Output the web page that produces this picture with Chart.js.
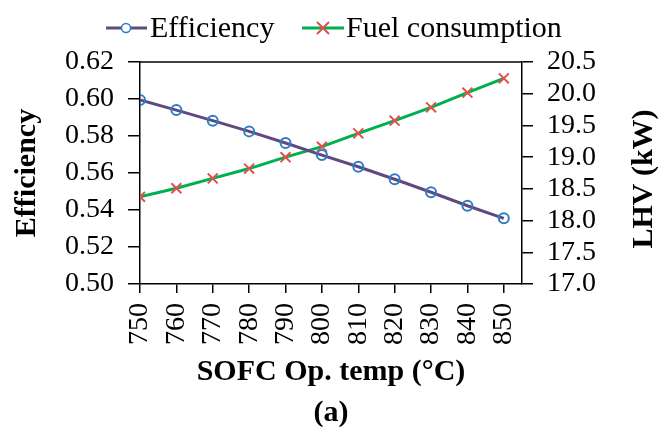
<!DOCTYPE html>
<html>
<head>
<meta charset="utf-8">
<script src="https://cdn.jsdelivr.net/npm/chart.js@4/dist/chart.umd.min.js"></script>
<style>
html,body{margin:0;padding:0;background:#fff;}
#wrap{width:660px;height:432px;position:relative;}
</style>
</head>
<body>
<div id="wrap"><canvas id="c" width="660" height="432"></canvas></div>
<script>
const temperatures = [750, 760, 770, 780, 790, 800, 810, 820, 830, 840, 850];
const efficiency = [0.5995, 0.594, 0.5883, 0.5825, 0.5762, 0.5697, 0.5634, 0.5566, 0.5496, 0.5423, 0.5355];
const fuelConsumption = [18.375, 18.51, 18.665, 18.82, 19.0, 19.165, 19.375, 19.575, 19.785, 20.016, 20.243];
const seriesNames = ['Efficiency', 'Fuel consumption'];
const xTitle = 'SOFC Op. temp (°C)';
const yTitle = 'Efficiency';
const y1Title = 'LHV (kW)';
const caption = '(a)';

const FONT = "'Liberation Serif', 'Times New Roman', serif";
const effLine = '#5f4a80', effMark = '#2f7cc4';
const fuelLine = '#00b050', fuelMark = '#e2504c';

const extras = {
  id: 'extras',
  afterDraw(chart) {
    const ctx = chart.ctx, a = chart.chartArea;
    ctx.save();
    // top border
    ctx.strokeStyle = '#000'; ctx.lineWidth = 1.5;
    ctx.beginPath(); ctx.moveTo(a.left, a.top); ctx.lineTo(a.right, a.top); ctx.stroke();
    // right title, reading bottom to top
    ctx.fillStyle = '#000';
    ctx.font = "bold 30px " + FONT;
    ctx.textAlign = 'center'; ctx.textBaseline = 'middle';
    ctx.translate(644, (a.top + a.bottom) / 2 + 6);
    ctx.rotate(-Math.PI / 2);
    ctx.fillText(y1Title, 0, 0);
    ctx.setTransform(1,0,0,1,0,0);
    // caption
    ctx.font = "bold 30px " + FONT;
    ctx.fillText(caption, (a.left + a.right) / 2, 413);
    // legend
    const ly = 28;
    ctx.font = "30px " + FONT;
    ctx.textAlign = 'left';
    // efficiency
    ctx.strokeStyle = effLine; ctx.lineWidth = 3;
    ctx.beginPath(); ctx.moveTo(106, ly); ctx.lineTo(147, ly); ctx.stroke();
    ctx.strokeStyle = effMark; ctx.lineWidth = 1.5;
    ctx.beginPath(); ctx.arc(126, ly, 4.5, 0, Math.PI * 2); ctx.fillStyle = '#fff'; ctx.fill(); ctx.stroke();
    ctx.fillStyle = '#000';
    ctx.fillText(seriesNames[0], 150, ly + 1);
    // fuel
    ctx.strokeStyle = fuelLine; ctx.lineWidth = 3;
    ctx.beginPath(); ctx.moveTo(302, ly); ctx.lineTo(344, ly); ctx.stroke();
    ctx.strokeStyle = fuelMark; ctx.lineWidth = 2;
    const r = 6, cx = 323;
    ctx.beginPath();
    ctx.moveTo(cx - r, ly - r); ctx.lineTo(cx + r, ly + r);
    ctx.moveTo(cx - r, ly + r); ctx.lineTo(cx + r, ly - r);
    ctx.stroke();
    ctx.fillText(seriesNames[1], 346, ly + 1);
    ctx.restore();
  }
};

new Chart(document.getElementById('c'), {
  type: 'line',
  data: {
    datasets: [
      {
        label: seriesNames[0],
        data: temperatures.map((t, i) => ({x: t, y: efficiency[i]})),
        yAxisID: 'y',
        borderColor: effLine,
        borderWidth: 3,
        pointStyle: 'circle',
        pointRadius: 5,
        pointBorderColor: effMark,
        pointBackgroundColor: 'rgba(255,255,255,0)',
        pointBorderWidth: 2,
        tension: 0
      },
      {
        label: seriesNames[1],
        data: temperatures.map((t, i) => ({x: t, y: fuelConsumption[i]})),
        yAxisID: 'y1',
        borderColor: fuelLine,
        borderWidth: 3,
        pointStyle: 'crossRot',
        pointRadius: 7,
        pointBorderColor: fuelMark,
        pointBorderWidth: 2,
        tension: 0
      }
    ]
  },
  options: {
    responsive: false,
    animation: false,
    layout: {padding: {top: 62, left: 0, right: 0, bottom: 0}},
    plugins: {legend: {display: false}, tooltip: {enabled: false}, title: {display: false}},
    scales: {
      x: {
        type: 'linear',
        min: 750, max: 855,
        afterBuildTicks(s) { s.ticks = temperatures.map(v => ({value: v})); },
        afterFit(s) { s.height = 148; },
        ticks: {
          stepSize: 10, minRotation: 90, maxRotation: 90, autoSkip: false,
          color: '#000', font: {family: FONT, size: 28}, padding: 10,
          callback: v => String(v)
        },
        grid: {display: true, drawOnChartArea: false, drawTicks: true, tickLength: 9, color: '#000', lineWidth: 1.5},
        border: {display: true, color: '#000', width: 1.5},
        title: {display: true, text: xTitle, color: '#000', font: {family: FONT, size: 30, weight: 'bold'}, padding: {top: 0, bottom: 42}}
      },
      y: {
        position: 'left',
        min: 0.50, max: 0.62,
        afterFit(s) { s.width = 140; },
        ticks: {stepSize: 0.02, autoSkip: false, color: '#000', font: {family: FONT, size: 28}, padding: 14, callback: v => Number(v).toFixed(2)},
        grid: {display: true, drawOnChartArea: false, drawTicks: true, tickLength: 12, color: '#000', lineWidth: 1.5},
        border: {display: true, color: '#000', width: 1.5},
        title: {display: true, text: yTitle, color: '#000', font: {family: FONT, size: 30, weight: 'bold'}, padding: {top: 9, bottom: 0}}
      },
      y1: {
        position: 'right',
        min: 17.0, max: 20.5,
        afterFit(s) { s.width = 138; },
        ticks: {stepSize: 0.5, autoSkip: false, color: '#000', font: {family: FONT, size: 28}, padding: 14, callback: v => Number(v).toFixed(1)},
        grid: {display: true, drawOnChartArea: false, drawTicks: true, tickLength: 11, color: '#000', lineWidth: 1.5},
        border: {display: true, color: '#000', width: 1.5}
      }
    }
  },
  plugins: [extras]
});
</script>
</body>
</html>
